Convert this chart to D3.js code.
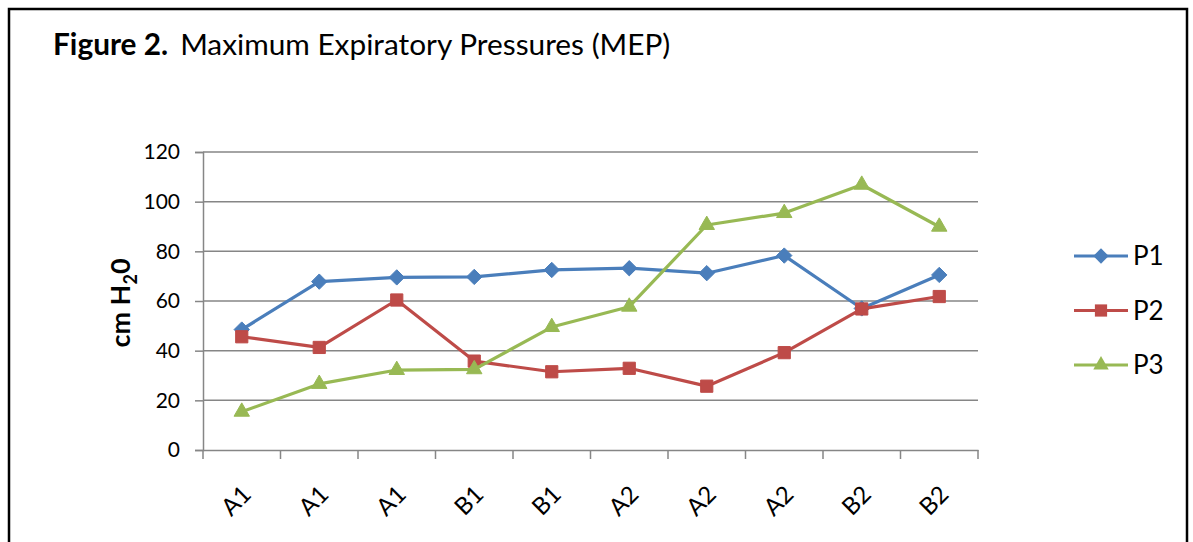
<!DOCTYPE html>
<html>
<head>
<meta charset="utf-8">
<script src="https://cdn.jsdelivr.net/npm/d3@7"></script>
<style>
  body { margin: 0; background: #fff; }
  svg { font-family: Lato, "Open Sans", sans-serif; }
</style>
</head>
<body>
<div id="chart"></div>
<script>
// data
categories = ["A1", "A1", "A1", "B1", "B1", "A2", "A2", "A2", "B2", "B2"]
p1 = [48.5, 67.8, 69.5, 69.7, 72.5, 73.2, 71.2, 78.3, 57, 70.5]
p2 = [45.6, 41.3, 60.4, 35.8, 31.5, 32.9, 25.7, 39.2, 56.8, 61.8]
p3 = [15.4, 26.6, 32.2, 32.5, 49.5, 57.7, 90.6, 95.4, 106.8, 89.9]
seriesNames = ["P1", "P2", "P3"]
yTicks = [0, 20, 40, 60, 80, 100, 120]

series = [
  {name: seriesNames[0], values: p1, color: "#4A7EBB", symbol: d3.symbolDiamond2, size: 150},
  {name: seriesNames[1], values: p2, color: "#BE4B48", symbol: d3.symbolSquare2, size: 190},
  {name: seriesNames[2], values: p3, color: "#98B954", symbol: d3.symbolTriangle2, size: 170}
]

const width = 1193, height = 542
const plot = {left: 203, right: 978, top: 152, bottom: 450}

const svg = d3.select("#chart").append("svg")
    .attr("width", width)
    .attr("height", height)

// outer frame
svg.append("rect")
    .attr("x", 9).attr("y", 9)
    .attr("width", 1178).attr("height", 600)
    .attr("fill", "none")
    .attr("stroke", "#000")
    .attr("stroke-width", 2.5)

// title
const title = svg.append("text")
    .attr("x", 53).attr("y", 55)
    .style("font-size", "29.8px")
    .attr("fill", "#000")
title.append("tspan").attr("font-weight", 700).text("Figure 2.")
title.append("tspan").attr("dx", 12).text("Maximum Expiratory Pressures (MEP)")

// scales
x = d3.scaleBand()
    .domain(d3.range(categories.length))
    .range([plot.left, plot.right])

y = d3.scaleLinear()
    .domain([0, 120])
    .range([plot.bottom, plot.top])

// gridlines
svg.append("g")
    .selectAll("line")
    .data(yTicks.slice(1))
    .join("line")
    .attr("x1", plot.left).attr("x2", plot.right)
    .attr("y1", d => y(d)).attr("y2", d => y(d))
    .attr("stroke", "#868686")
    .attr("stroke-width", 1.5)

// y axis
const yaxis = d3.axisLeft(y)
    .tickValues(yTicks)
    .tickSize(8)
    .tickPadding(15)

svg.append("g")
    .attr("transform", `translate(${plot.left},0)`)
    .call(yaxis)
    .call(g => g.select(".domain").attr("stroke", "#868686").attr("stroke-width", 1.5))
    .call(g => g.selectAll(".tick line").attr("stroke", "#868686").attr("stroke-width", 1.5))
    .call(g => g.selectAll(".tick text")
        .attr("fill", "#000")
        .style("font-size", "21px")
        .style("font-family", "Lato, sans-serif"))

// x axis
const xaxis = d3.axisBottom(x)
    .tickSize(0)
    .tickFormat(i => categories[i])

svg.append("g")
    .attr("transform", `translate(0,${plot.bottom})`)
    .call(xaxis)
    .call(g => g.select(".domain").attr("stroke", "#868686").attr("stroke-width", 1.5))
    .call(g => g.selectAll(".tick text")
        .attr("fill", "#000")
        .style("font-size", "24px")
        .style("font-family", "Lato, sans-serif")
        .attr("text-anchor", "end")
        .attr("transform", "translate(5,40) rotate(-45)")
        .attr("y", 0).attr("dy", "0.35em"))

// category boundary ticks
svg.append("g")
    .selectAll("line")
    .data(d3.range(categories.length + 1))
    .join("line")
    .attr("x1", i => plot.left + i * x.step())
    .attr("x2", i => plot.left + i * x.step())
    .attr("y1", plot.bottom).attr("y2", plot.bottom + 9)
    .attr("stroke", "#868686")
    .attr("stroke-width", 1.5)

// y axis title
const ytitle = svg.append("text")
    .attr("transform", `translate(130,${(plot.top + plot.bottom) / 2 + 2}) rotate(-90)`)
    .attr("text-anchor", "middle")
    .attr("font-weight", 700)
    .style("font-size", "27px")
    .attr("fill", "#000")
ytitle.append("tspan").text("cm H")
ytitle.append("tspan").attr("dy", 7).style("font-size", "18px").text("2")
ytitle.append("tspan").attr("dy", -7).text("0")

// lines
const line = d3.line()
    .x((d, i) => x(i) + x.bandwidth() / 2)
    .y(d => y(d))

const groups = svg.append("g")
    .selectAll("g")
    .data(series)
    .join("g")

groups.append("path")
    .attr("d", d => line(d.values))
    .attr("fill", "none")
    .attr("stroke", d => d.color)
    .attr("stroke-width", 3.2)
    .attr("stroke-linejoin", "round")

groups.each(function(s) {
    d3.select(this).selectAll("path.marker")
        .data(s.values)
        .join("path")
        .attr("class", "marker")
        .attr("d", d3.symbol().type(s.symbol).size(s.size))
        .attr("transform", (d, i) => `translate(${x(i) + x.bandwidth() / 2},${y(d)})`)
        .attr("fill", s.color)
        .attr("stroke", s.color)
        .attr("stroke-width", 1)
})

// legend
const legend = svg.append("g")
    .selectAll("g")
    .data(series)
    .join("g")
    .attr("transform", (d, i) => `translate(1074,${256 + i * 54.5})`)

legend.append("line")
    .attr("x1", 0).attr("x2", 54)
    .attr("stroke", d => d.color)
    .attr("stroke-width", 3.2)

legend.append("path")
    .attr("d", d => d3.symbol().type(d.symbol).size(d.size)())
    .attr("transform", "translate(27,0)")
    .attr("fill", d => d.color)

legend.append("text")
    .attr("x", 59).attr("dy", "0.36em")
    .style("font-size", "26px")
    .attr("fill", "#000")
    .text(d => d.name)
</script>
</body>
</html>
